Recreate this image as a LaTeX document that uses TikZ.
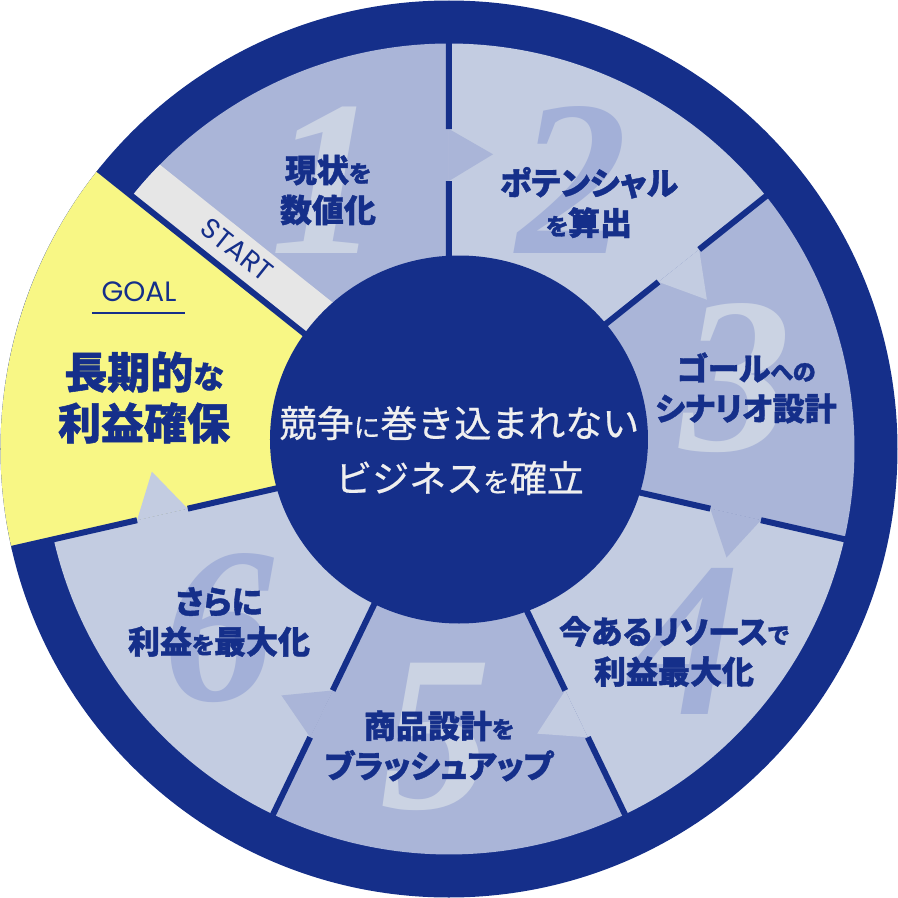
\documentclass[tikz,border=0pt]{standalone}
\usepackage{fontspec}
\usepackage{graphicx}
\newfontfamily\jpfont{Noto Sans CJK JP}[RawFeature=+palt, BoldFeatures={FakeBold=1.2}]
\newfontfamily\jpplain{Noto Sans CJK JP}[FakeBold=0.6]
\newfontfamily\numfont{Liberation Serif}
\newfontfamily\latinfont{Poppins}

\definecolor{navy}{HTML}{152F8A}
\definecolor{secmid}{HTML}{AAB5D8}
\definecolor{seclight}{HTML}{C3CCE1}
\definecolor{numonmid}{HTML}{CBD3E3}
\definecolor{numonlight}{HTML}{A3B0D8}
\definecolor{goalyellow}{HTML}{F8F785}
\definecolor{startgray}{HTML}{E6E6E6}
\definecolor{centertext}{HTML}{EFEFEF}

\newcommand{\smallkana}[1]{\scalebox{0.72}{#1}}

\tikzset{
  divider/.style={draw=navy, line width=6pt},
  steplabel/.style={font=\jpfont\bfseries\fontsize{32}{40}\selectfont, text=navy, align=center, inner sep=0pt},
  goallabel/.style={font=\jpfont\bfseries\fontsize{43}{51}\selectfont, text=navy, align=center, inner sep=0pt},
  bignum/.style={font=\numfont\bfseries\itshape\fontsize{222}{222}\selectfont, inner sep=0pt},
  corelabel/.style={font=\jpplain\fontsize{37}{55}\selectfont, text=centertext, align=center, inner sep=0pt},
  tag/.style={font=\latinfont\fontsize{28}{28}\selectfont, text=navy, inner sep=0pt},
}

\begin{document}
\begin{tikzpicture}[x=1pt,y=1pt]
  \useasboundingbox (-449,-449) rectangle (449,449);
  % Rim
  \fill[navy] (0,0) circle (448.5);
  % Goal wedge
  \fill[goalyellow] (0,0) -- (141.43:448.5) arc[start angle=141.43, end angle=192.86, radius=448.5] -- cycle;
  % Step wedges
  \foreach \i/\col in {1/secmid, 2/seclight, 3/secmid, 4/seclight, 5/secmid, 6/seclight} {
    \pgfmathsetmacro{\a}{141.43-(\i-1)*51.4286}
    \fill[\col] (0,0) -- (\a:405.5) arc[start angle=\a, delta angle=-51.4286, radius=405.5] -- cycle;
  }
  % Big numbers
  \foreach \i/\x/\y/\col in {1/-123/269/numonmid, 2/123/269/numonlight, 3/287/71/numonmid, 4/236/-192/numonlight, 5/-13/-288/numonmid, 6/-230/-179/numonlight}
    \node[bignum, text=\col] (num\i) at (\x,\y) {\i};
  % Start strip
  \begin{scope}
    \clip (0,0) circle (405.5);
    \fill[startgray, rotate=141.43] (0,0) rectangle (420,-42);
  \end{scope}
  % Arrow heads
  \foreach \i/\col in {1/secmid, 2/seclight, 3/secmid, 4/seclight, 5/secmid, 6/seclight} {
    \pgfmathsetmacro{\b}{141.43-\i*51.4286}
    \fill[\col] (\b:268) -- ({\b-8.5}:298) -- (\b:320) -- cycle; % tip
  }
  % Dividers
  \foreach \i in {1,...,5} {
    \pgfmathsetmacro{\b}{141.43-\i*51.4286}
    \draw[divider] (0,0) -- (\b:268);
    \draw[divider] (\b:320) -- (\b:406);
  }
  \draw[divider] (0,0) -- (-167.14:268);
  \draw[divider] (-167.14:320) -- (-167.14:448.5);
  \draw[divider] (0,0) -- (141.43:448.5);
  % Core
  \fill[navy] (10,9.5) ellipse [x radius=189, y radius=184];
  \node[corelabel] (core) at (10.5,-1.5) {競争\smallkana{に}巻き込まれない\\ビジネス\smallkana{を}確立};
  % Labels
  \node[steplabel] (step1) at (-121,259) {現状\smallkana{を}\\数値化};
  \node[steplabel] (step2) at (140,246.5) {ポテンシャル\\\smallkana{を}算出};
  \node[steplabel] (step3) at (297,61) {ゴール\smallkana{への}\\シナリオ設計};
  \node[steplabel] (step4) at (225,-202.5) {今あるリソース\smallkana{で}\\利益最大化};
  \node[steplabel] (step5) at (-10,-297) {商品設計\smallkana{を}\\ブラッシュアップ};
  \node[steplabel] (step6) at (-230,-173) {さらに\\利益\smallkana{を}最大化};
  \node[goallabel] (goal) at (-305,51.5) {長期的\smallkana{な}\\利益確保};
  \node[tag] (goaltitle) at (-310,157) {GOAL};
  \draw[navy, line width=2pt] (-357,136) -- (-264,136);
  \node[tag, rotate=-38.57] (start) at (-212,199) {START};
\end{tikzpicture}
\end{document}
